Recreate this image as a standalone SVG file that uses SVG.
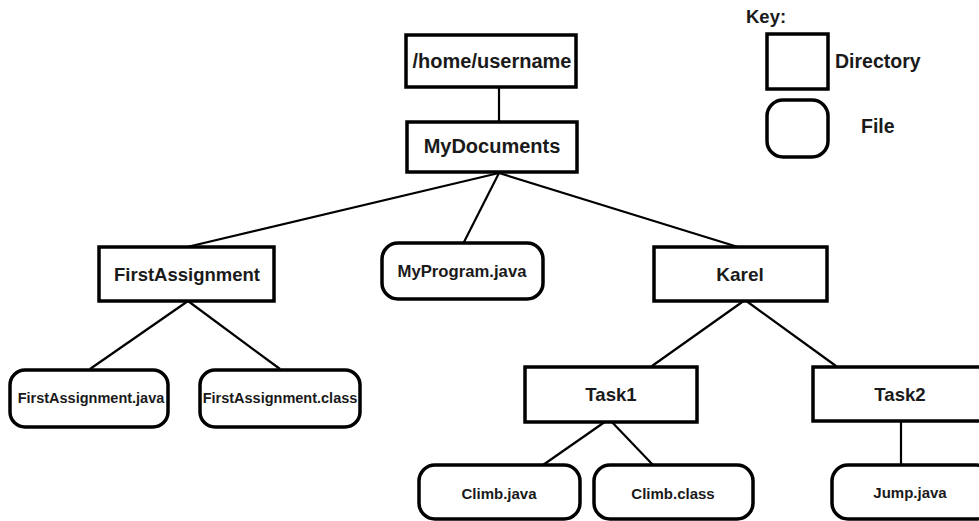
<svg xmlns="http://www.w3.org/2000/svg" width="979" height="521" viewBox="0 0 979 521">
<style>
.dir{fill:#fff;stroke:#000;stroke-width:3.5}
.file{fill:#fff;stroke:#000;stroke-width:3.5}
.t{font-family:"Liberation Sans",Arial,sans-serif;font-weight:bold;fill:#1a1a1a;text-anchor:middle}
.k{font-family:"Liberation Sans",Arial,sans-serif;font-weight:bold;fill:#1a1a1a}
.c{stroke:#000;stroke-width:2.2;fill:none}
</style>
<rect width="979" height="521" fill="#fff"/>
<g id="connectors">
<line class="c" x1="499" y1="87" x2="499" y2="122"/>
<line class="c" x1="499" y1="173" x2="187" y2="247"/>
<line class="c" x1="499" y1="173" x2="463" y2="244"/>
<line class="c" x1="499" y1="173" x2="738" y2="247"/>
<line class="c" x1="188" y1="301" x2="90" y2="369"/>
<line class="c" x1="188" y1="301" x2="280" y2="369"/>
<line class="c" x1="745" y1="300" x2="652" y2="366"/>
<line class="c" x1="745" y1="300" x2="836" y2="366"/>
<line class="c" x1="609" y1="419" x2="543" y2="465"/>
<line class="c" x1="609" y1="419" x2="653" y2="465"/>
<line class="c" x1="901" y1="421" x2="901" y2="465"/>
</g>
<g id="home">
<rect class="dir" x="406" y="35" width="170" height="52"/>
<text class="t" x="492" y="68" font-size="20">/home/username</text>
</g>
<g id="mydocuments">
<rect class="dir" x="407" y="122" width="170" height="50"/>
<text class="t" x="492" y="153" font-size="20">MyDocuments</text>
</g>
<g id="firstassignment">
<rect class="dir" x="99" y="247" width="175" height="54"/>
<text class="t" x="187" y="281" font-size="18.5">FirstAssignment</text>
</g>
<g id="myprogram">
<rect class="file" x="382" y="243" width="161" height="56" rx="16"/>
<text class="t" x="462" y="277" font-size="16.7">MyProgram.java</text>
</g>
<g id="karel">
<rect class="dir" x="654" y="247" width="173" height="54"/>
<text class="t" x="740" y="281" font-size="19">Karel</text>
</g>
<g id="fajava">
<rect class="file" x="10" y="370" width="158" height="57" rx="15"/>
<text class="t" x="91" y="403" font-size="14.5">FirstAssignment.java</text>
</g>
<g id="faclass">
<rect class="file" x="200" y="370" width="160" height="57" rx="15"/>
<text class="t" x="280" y="403" font-size="14.5">FirstAssignment.class</text>
</g>
<g id="task1">
<rect class="dir" x="525" y="367" width="172" height="55"/>
<text class="t" x="611" y="401" font-size="18.6">Task1</text>
</g>
<g id="task2">
<rect class="dir" x="813" y="367" width="180" height="54"/>
<text class="t" x="900" y="401" font-size="18.6">Task2</text>
</g>
<g id="climbjava">
<rect class="file" x="419" y="465" width="161" height="54" rx="16"/>
<text class="t" x="499" y="499" font-size="15">Climb.java</text>
</g>
<g id="climbclass">
<rect class="file" x="594" y="465" width="159" height="54" rx="16"/>
<text class="t" x="673" y="499" font-size="15">Climb.class</text>
</g>
<g id="jumpjava">
<rect class="file" x="832" y="465" width="160" height="54" rx="16"/>
<text class="t" x="910" y="498" font-size="15">Jump.java</text>
</g>
<g id="key">
<text class="k" x="746" y="23" font-size="18.5">Key:</text>
<rect class="dir" x="767" y="34" width="61" height="55"/>
<text class="k" x="835" y="68" font-size="19.5">Directory</text>
<rect class="file" x="767" y="100" width="61" height="57" rx="16"/>
<text class="k" x="861" y="133" font-size="19.5">File</text>
</g>
</svg>
